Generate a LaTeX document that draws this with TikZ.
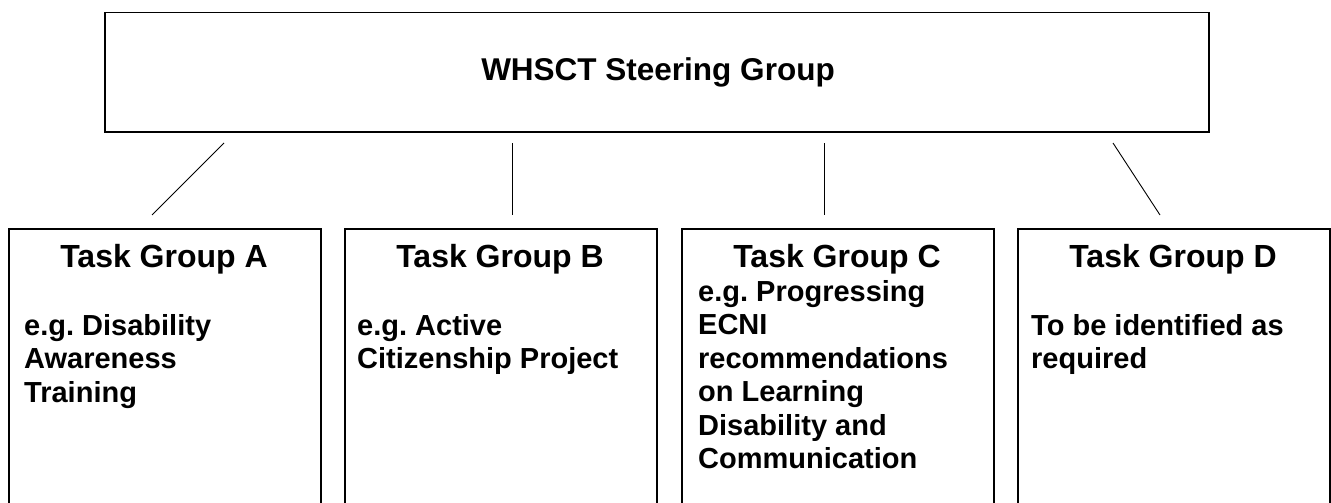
\documentclass[tikz,border=0pt]{standalone}
\usepackage{fontspec}
\setmainfont{Liberation Sans}
\frenchspacing
\begin{document}
\begin{tikzpicture}[x=1pt,y=-1pt,
  frame/.style={draw=black,line width=1.5pt,inner sep=0pt,anchor=north west},
  conn/.style={draw=black,line width=0.9pt},
  head/.style={anchor=base,inner sep=0pt,font=\fontsize{32}{33.5}\selectfont\bfseries},
  body/.style={anchor=base west,inner sep=0pt,align=left,font=\fontsize{29}{33.5}\selectfont\bfseries}]
\useasboundingbox (0,0) rectangle (1331,503);
\clip (0,0) rectangle (1331,503);
% top box
\node[frame,minimum width=1104pt,minimum height=119pt] (top) at (104,12) {};
\node[head,font=\fontsize{31.5}{33.5}\selectfont\bfseries] (toptext) at (658,81) {WHSCT Steering Group};
% task group boxes (their bottom edges lie below the picture)
\node[frame,minimum width=312pt,minimum height=320pt] (A) at (8,228) {};
\node[frame,minimum width=312pt,minimum height=320pt] (B) at (344,228) {};
\node[frame,minimum width=312pt,minimum height=320pt] (C) at (681,228) {};
\node[frame,minimum width=312pt,minimum height=320pt] (D) at (1017,228) {};
% headings
\node[head] (Ah) at (164,267) {Task Group A};
\node[head] (Bh) at (500,267) {Task Group B};
\node[head] (Ch) at (837,267) {Task Group C};
\node[head] (Dh) at (1173,267) {Task Group D};
% bodies (anchor base = baseline of the last line)
\node[body] (At) at (24,402) {e.g. Disability\\Awareness\\Training};
\node[body] (Bt) at (357,368.5) {e.g. Active\\Citizenship Project};
\node[body] (Ct) at (698,468.5) {e.g. Progressing\\ECNI\\recommendations\\on Learning\\Disability and\\Communication};
\node[body] (Dt) at (1031,368.5) {To be identified as\\required};
% connector ends
\coordinate (a1) at (224,143); \coordinate (a2) at (152,215);
\coordinate (b1) at (512,143); \coordinate (b2) at (512,215);
\coordinate (c1) at (824,143); \coordinate (c2) at (824,215);
\coordinate (d1) at (1113,143); \coordinate (d2) at (1160,215);
\draw[conn] (a1) -- (a2);
\draw[conn] (b1) -- (b2);
\draw[conn] (c1) -- (c2);
\draw[conn] (d1) -- (d2);
\end{tikzpicture}
\end{document}
